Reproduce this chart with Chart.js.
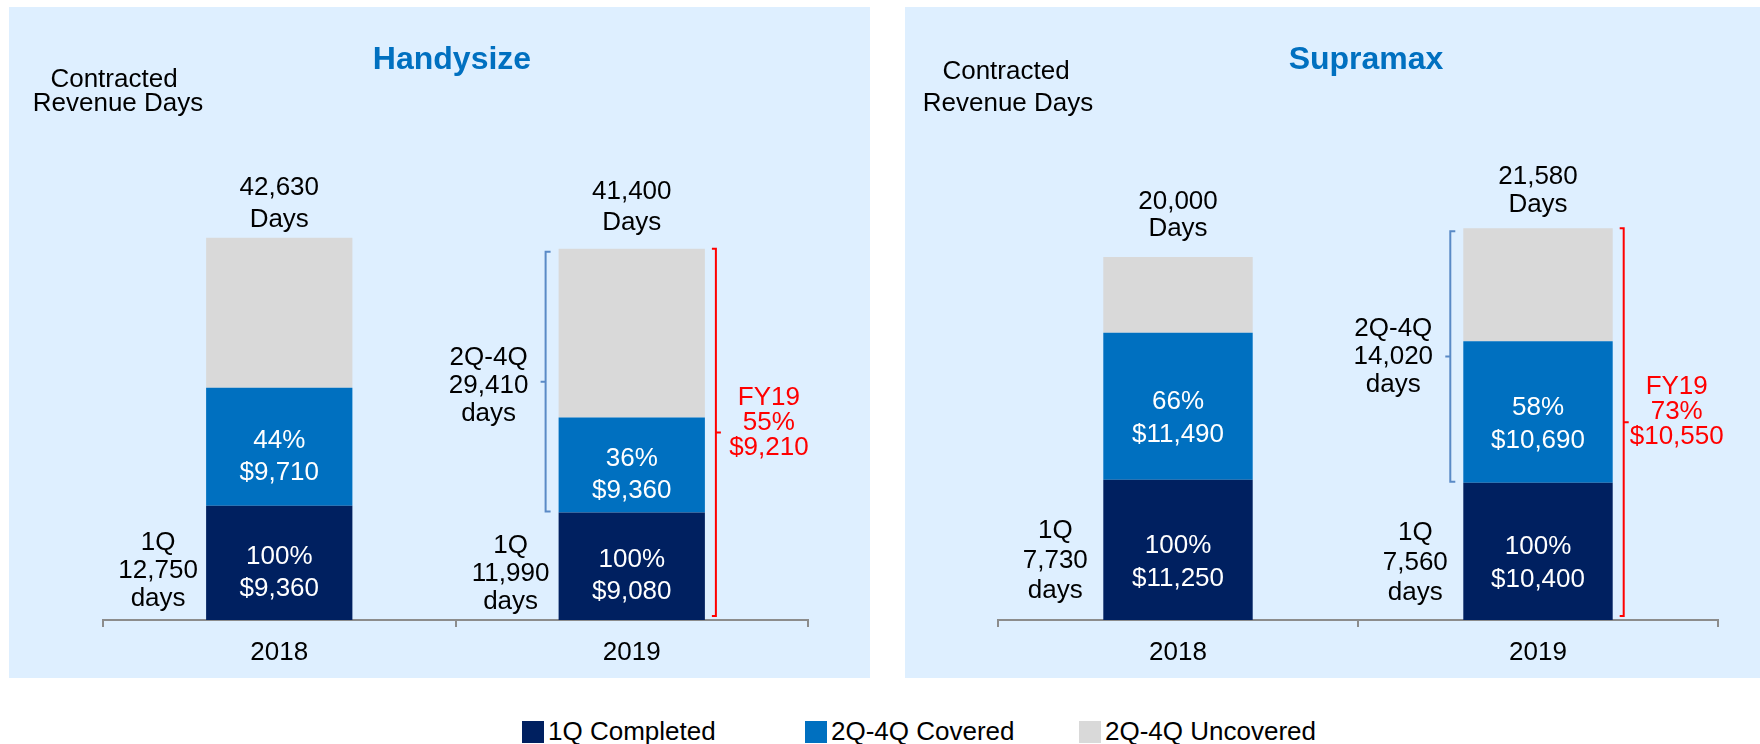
<!DOCTYPE html>
<html>
<head>
<meta charset="utf-8">
<script src="https://cdn.jsdelivr.net/npm/chart.js@4.4.0/dist/chart.umd.min.js"></script>
<style>
  html, body { margin: 0; padding: 0; background: #fff; }
  body { width: 1760px; height: 744px; position: relative; overflow: hidden;
         font-family: "Liberation Sans", Arial, sans-serif; }
  .panel { position: absolute; top: 7px; height: 671px; background: #DEEFFF; }
  #legend { position: absolute; top: 716px; left: 0; }
  .item { position: absolute; display: flex; align-items: center; font-size: 26px; white-space: nowrap; }
  .box { width: 22px; height: 22px; margin-right: 4px; }
</style>
</head>
<body>
<div class="panel" style="left:9px;width:861px"><canvas id="handyChart" width="861" height="671"></canvas></div>
<div class="panel" style="left:905px;width:855px"><canvas id="supraChart" width="855" height="671"></canvas></div>
<div id="legend"></div>

<script>
/* ---------- Data ---------- */

const years = ["2018", "2019"];
const seriesNames = ["1Q Completed", "2Q-4Q Covered", "2Q-4Q Uncovered"];
const seriesColors = ["#002060", "#0070C0", "#D9D9D9"];

// Handysize (revenue days)
const handyCompleted = [12750, 11990];
const handyCovered = [13150, 10590];
const handyUncovered = [16730, 18820];
const handyTotals = ["42,630", "41,400"];
const handyQ1Days = ["12,750", "11,990"];
const handyCoveredText = [["44%", "$9,710"], ["36%", "$9,360"]];
const handyCompletedText = [["100%", "$9,360"], ["100%", "$9,080"]];
const handyRestDays = "29,410";
const handyFY = ["FY19", "55%", "$9,210"];

// Supramax (revenue days)
const supraCompleted = [7730, 7560];
const supraCovered = [8100, 7800];
const supraUncovered = [4170, 6220];
const supraTotals = ["20,000", "21,580"];
const supraQ1Days = ["7,730", "7,560"];
const supraCoveredText = [["66%", "$11,490"], ["58%", "$10,690"]];
const supraCompletedText = [["100%", "$11,250"], ["100%", "$10,400"]];
const supraRestDays = "14,020";
const supraFY = ["FY19", "73%", "$10,550"];

const FONT = "'Liberation Sans', Arial, sans-serif";

/* ---------- Helpers ---------- */

function drawLines(ctx, arr, x, cy, lh) {
  const start = cy - (arr.length - 1) * lh / 2;
  arr.forEach((t, k) => ctx.fillText(t, x, start + k * lh));
}

/* ---------- Annotation plugin ---------- */

const notesPlugin = {
  id: "notes",
  afterDatasetsDraw(chart, args, o) {
    const ctx = chart.ctx;
    const done = chart.getDatasetMeta(0).data;
    const cov = chart.getDatasetMeta(1).data;
    const unc = chart.getDatasetMeta(2).data;

    ctx.save();
    ctx.textAlign = "center";
    ctx.textBaseline = "middle";

    // panel title + axis caption
    ctx.font = "bold 32px " + FONT;
    ctx.fillStyle = "#0070C0";
    ctx.fillText(o.title, o.titleX, 53);
    ctx.font = "26px " + FONT;
    ctx.fillStyle = "#000";
    ctx.fillText("Contracted", o.capX[0], o.capY[0]);
    ctx.fillText("Revenue Days", o.capX[1], o.capY[1]);

    done.forEach((bar, i) => {
      const half = bar.width / 2;
      ctx.fillStyle = "#000";
      ctx.fillText(o.totals[i], bar.x, unc[i].y + o.totalGap[i][0]);
      ctx.fillText("Days", bar.x, unc[i].y + o.totalGap[i][1]);

      ctx.fillStyle = "#fff";
      drawLines(ctx, o.coveredText[i], bar.x, (cov[i].y + cov[i].base) / 2 + o.inShift, o.inLh);
      drawLines(ctx, o.completedText[i], bar.x, (bar.y + bar.base) / 2 + o.inShift, o.inLh);

      ctx.fillStyle = "#000";
      drawLines(ctx, ["1Q", o.q1Days[i], "days"], bar.x - half - 48, (bar.y + bar.base) / 2 + o.sideShift, o.sideLh);
    });

    // 2019 brackets
    const b = done[1];
    const half = b.width / 2;

    const bl = b.x - half - 13;
    const bTop = unc[1].y + 3, bBot = b.y - 1, bMid = (bTop + bBot) / 2;
    ctx.strokeStyle = "#5A8AC6";
    ctx.lineWidth = 2;
    ctx.beginPath();
    ctx.moveTo(bl + 5, bTop); ctx.lineTo(bl, bTop); ctx.lineTo(bl, bBot); ctx.lineTo(bl + 5, bBot);
    ctx.moveTo(bl, bMid); ctx.lineTo(bl - 5, bMid);
    ctx.stroke();
    ctx.fillStyle = "#000";
    drawLines(ctx, ["2Q-4Q", o.restDays, "days"], bl - 57, bMid + o.restShift, 28);

    const rr = b.x + half + 11;
    const rTop = unc[1].y, rBot = b.base - 4, rMid = (rTop + rBot) / 2;
    ctx.strokeStyle = "#FF0000";
    ctx.beginPath();
    ctx.moveTo(rr - 4, rTop); ctx.lineTo(rr, rTop); ctx.lineTo(rr, rBot); ctx.lineTo(rr - 4, rBot);
    ctx.moveTo(rr, rMid); ctx.lineTo(rr + 5, rMid);
    ctx.stroke();
    ctx.fillStyle = "#FF0000";
    drawLines(ctx, o.fy, rr + 53, rMid - 10, 25);

    ctx.restore();
  }
};

/* ---------- Chart ---------- */

function makeChart(id, values, yMax, pad, notes) {
  return new Chart(document.getElementById(id), {
    type: "bar",
    data: {
      labels: years,
      datasets: values.map((v, k) => ({
        label: seriesNames[k],
        data: v,
        backgroundColor: seriesColors[k],
        borderWidth: 0,
        categoryPercentage: 1,
        barPercentage: 0.415
      }))
    },
    options: {
      responsive: false,
      animation: false,
      layout: { padding: { top: 93, left: pad[0], right: pad[1], bottom: 0 } },
      plugins: { legend: { display: false }, tooltip: { enabled: false }, notes },
      scales: {
        x: {
          stacked: true,
          afterFit(scale) { scale.height = 58; },
          grid: { drawOnChartArea: false, drawTicks: true, tickLength: 7, color: "#8C8C8C", lineWidth: 2 },
          border: { display: true, color: "#8C8C8C", width: 2 },
          ticks: { color: "#000", padding: 10, font: { size: 26, family: FONT } }
        },
        y: { stacked: true, display: false, min: 0, max: yMax }
      }
    },
    plugins: [notesPlugin]
  });
}

makeChart("handyChart", [handyCompleted, handyCovered, handyUncovered], 58000, [94, 62], {
  title: "Handysize", titleX: 443, capX: [105, 109], capY: [73, 97],
  totalGap: [[-50, -18], [-57, -26]], inShift: 10, inLh: 32, sideShift: 8, sideLh: 28, restShift: 4,
  totals: handyTotals, q1Days: handyQ1Days, coveredText: handyCoveredText,
  completedText: handyCompletedText, restDays: handyRestDays, fy: handyFY
});

makeChart("supraChart", [supraCompleted, supraCovered, supraUncovered], 28650, [93, 42], {
  title: "Supramax", titleX: 461, capX: [101, 103], capY: [65, 97],
  totalGap: [[-55, -28], [-51, -23]], inShift: 12, inLh: 33, sideShift: 11, sideLh: 30, restShift: 0,
  totals: supraTotals, q1Days: supraQ1Days, coveredText: supraCoveredText,
  completedText: supraCompletedText, restDays: supraRestDays, fy: supraFY
});

/* ---------- Legend ---------- */

const legendX = [522, 805, 1079];
const legend = document.getElementById("legend");
seriesNames.forEach((name, k) => {
  const item = document.createElement("div");
  item.className = "item";
  item.style.left = legendX[k] + "px";
  item.innerHTML = `<span class="box" style="background:${seriesColors[k]}"></span>${name}`;
  legend.appendChild(item);
});
</script>
</body>
</html>
